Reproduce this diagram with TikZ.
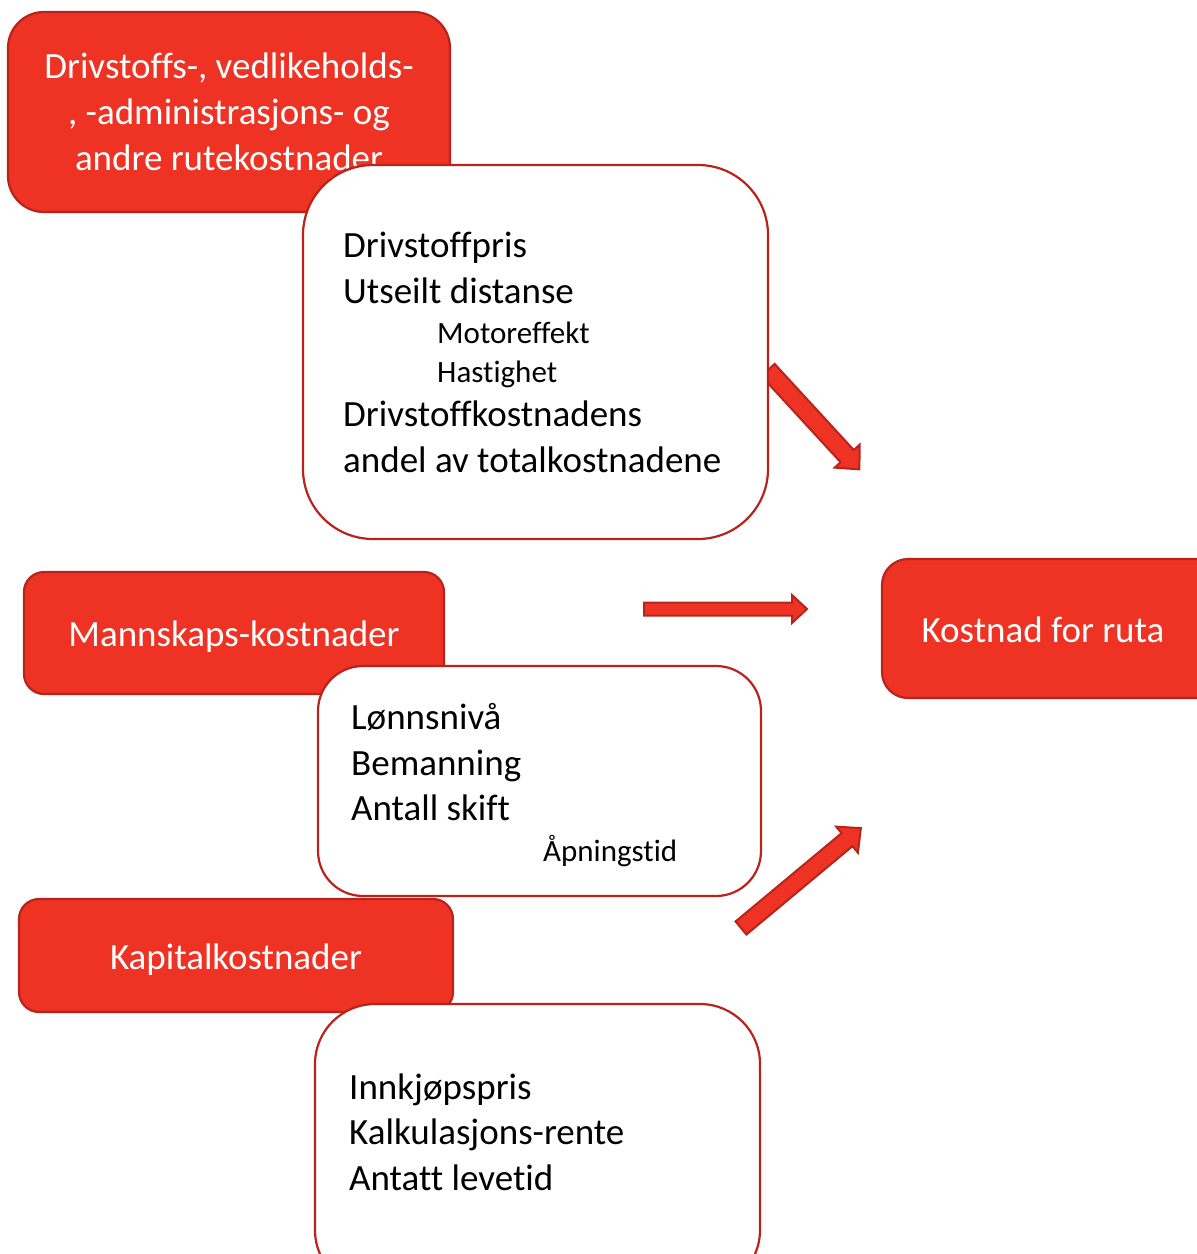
\documentclass[tikz,border=0pt]{standalone}
\usepackage{fontspec}
\setmainfont[Ligatures={NoCommon}]{Carlito}
\definecolor{boxred}{RGB}{238,50,36}
\definecolor{edgered}{RGB}{184,36,28}
\tikzset{
  redbox/.style={draw=edgered, fill=boxred, line width=2.2pt},
  whitebox/.style={draw=edgered, fill=white, line width=2.2pt},
  redtext/.style={text=white, font=\fontsize{37}{46}\selectfont, align=center, inner sep=0pt},
  bigtext/.style={text=black, font=\fontsize{37}{46}\selectfont, anchor=base west, inner sep=0pt},
  smalltext/.style={text=black, font=\fontsize{31}{39}\selectfont, anchor=base west, inner sep=0pt},
  blockarrow/.style={draw=edgered, fill=boxred, line width=2pt, line join=miter},
}
\begin{document}
\begin{tikzpicture}[x=1pt, y=-1pt]
\useasboundingbox (0,0) rectangle (1197,1254);
\clip (0,0) rectangle (1197,1254);

% block arrows
\coordinate (a1) at (768,370);
\coordinate (a2) at (644,609);
\coordinate (a3) at (741,928);
\begin{scope}[shift={(a1)}, rotate=-47.4]
  \draw[blockarrow] (0,-9) -- (117,-9) -- (117,-17) -- (135,0) -- (117,17) -- (117,9) -- (0,9) -- cycle;
\end{scope}
\begin{scope}[shift={(a2)}]
  \draw[blockarrow] (0,-6.5) -- (148,-6.5) -- (148,-14) -- (163,0) -- (148,14) -- (148,6.5) -- (0,6.5) -- cycle;
\end{scope}
\begin{scope}[shift={(a3)}, rotate=39.8]
  \draw[blockarrow] (0,-8.5) -- (138,-8.5) -- (138,-17) -- (156,0) -- (138,17) -- (138,8.5) -- (0,8.5) -- cycle;
\end{scope}

% top group
\draw[redbox, rounded corners=36pt] (8,12) rectangle (450,212);
\node[redtext] (rt1) at (229,112) {Drivstoffs-, vedlikeholds-\\, -administrasjons- og\\andre rutekostnader};
\draw[whitebox, rounded corners=70pt] (303,165) rectangle (768,539);
\node[bigtext] (w1a) at (343,257) {Drivstoffpris};
\node[bigtext] (w1b) at (343,303) {Utseilt distanse};
\node[smalltext] (w1c) at (437,343) {Motoreffekt};
\node[smalltext] (w1d) at (437,382) {Hastighet};
\node[bigtext] (w1e) at (343,426) {Drivstoffkostnadens};
\node[bigtext] (w1f) at (343,472) {andel av totalkostnadene};

% middle group
\draw[redbox, rounded corners=20pt] (24,572) rectangle (444,694);
\node[redtext] (rt2) at (234,637) {Mannskaps-kostnader};
\draw[whitebox, rounded corners=45pt] (318,666) rectangle (761,896);
\node[bigtext] (w2a) at (351,729) {Lønnsnivå};
\node[bigtext] (w2b) at (351,775) {Bemanning};
\node[bigtext] (w2c) at (351,820) {Antall skift};
\node[smalltext] (w2d) at (543,861) {Åpningstid};

% bottom group
\draw[redbox, rounded corners=20pt] (19,899) rectangle (453,1012);
\node[redtext] (rt3) at (236,960) {Kapitalkostnader};
\draw[whitebox, rounded corners=60pt] (315,1004) rectangle (760,1290);
\node[bigtext] (w3a) at (349,1099) {Innkjøpspris};
\node[bigtext] (w3b) at (349,1144) {Kalkulasjons-rente};
\node[bigtext] (w3c) at (349,1190) {Antatt levetid};

% result
\draw[redbox, rounded corners=26pt] (882,559) rectangle (1230,698);
\node[redtext] (res) at (1043,630) {Kostnad for ruta};
\end{tikzpicture}
\end{document}
